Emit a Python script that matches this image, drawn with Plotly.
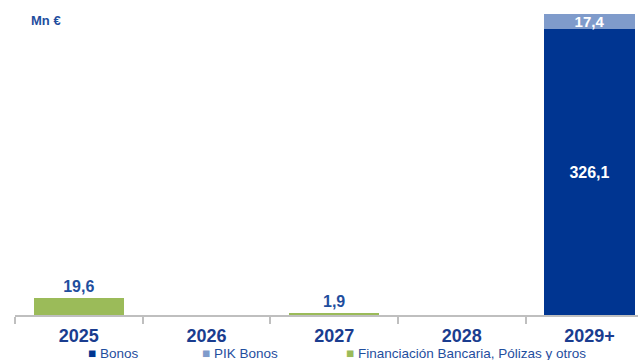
import plotly.graph_objects as go

categories = ["2025", "2026", "2027", "2028", "2029+"]
bonos = [0, 0, 0, 0, 326.1]
pik_bonos = [0, 0, 0, 0, 17.4]
financiacion = [19.6, 0, 1.9, 0, 0]

series_names = ["Bonos", "PIK Bonos", "Financiación Bancaria, Pólizas y otros"]
colors = ["#003591", "#7F9BCB", "#9BBB59"]

W, H = 638, 360
ML, MR, MT, MB = 15, 0, 10, 45
PW, PH = W - ML - MR, H - MT - MB

def fmt(v):
    return ("%.1f" % v).replace(".", ",") if v > 0 else ""

fig = go.Figure()
fig.add_trace(go.Bar(
    x=categories, y=bonos, name=series_names[0], marker_color=colors[0],
    text=[fmt(v) for v in bonos], textposition="inside", insidetextanchor="middle",
    textfont=dict(family="Liberation Sans", size=16, color="white", weight="bold"),
    cliponaxis=False,
))
fig.add_trace(go.Bar(
    x=categories, y=pik_bonos, name=series_names[1], marker_color=colors[1],
    text=[fmt(v) for v in pik_bonos], textposition="inside", insidetextanchor="middle",
    textfont=dict(family="Liberation Sans", size=15, color="white", weight="bold"),
    cliponaxis=False,
))
fig.add_trace(go.Bar(
    x=categories, y=financiacion, name=series_names[2], marker_color=colors[2],
    text=[fmt(v) for v in financiacion], textposition="outside",
    textfont=dict(family="Liberation Sans", size=16, color="#1F4E9E", weight="bold"),
    cliponaxis=False,
))

fig.update_traces(marker_line_width=0, textangle=0, constraintext="none")

fig.update_layout(
    width=W, height=H,
    margin=dict(l=ML, r=MR, t=MT, b=MB),
    barmode="stack", bargap=0.29,
    plot_bgcolor="white", paper_bgcolor="white",
    showlegend=False,
    xaxis=dict(
        range=[-0.5, 4.38], showgrid=False, showline=True, linecolor="#BFBFBF", linewidth=1.5,
        ticks="outside", tickson="boundaries", ticklen=7, tickcolor="#BFBFBF", tickwidth=1.5,
        tickfont=dict(family="Liberation Sans", size=18, color="#1A3D8F", weight="bold"),
        ticklabelstandoff=4,
    ),
    yaxis=dict(range=[0, 348], visible=False, showgrid=False, zeroline=False),
)

# "Mn €" unit label
fig.add_annotation(
    text="<b>Mn €</b>", xref="paper", yref="paper",
    x=(29 - ML) / PW, y=(PH - (20 - MT)) / PH,
    xanchor="left", yanchor="middle", showarrow=False,
    font=dict(family="Liberation Sans", size=13, color="#1F4E9E"),
)

# legend row
legend_x = [86, 200, 344]
legend_y = 353
for name, col, lx in zip(series_names, colors, legend_x):
    fig.add_annotation(
        text=f"<span style='color:{col}'>■</span> {name}",
        xref="paper", yref="paper",
        x=(lx - ML) / PW, y=(PH + MT - legend_y) / PH,
        xanchor="left", yanchor="middle", showarrow=False,
        font=dict(family="Liberation Sans", size=13.5, color="#1F4E9E"),
    )

fig.write_html("out.html", config={"displayModeBar": False},
               post_script="document.body.style.margin='0px';")
